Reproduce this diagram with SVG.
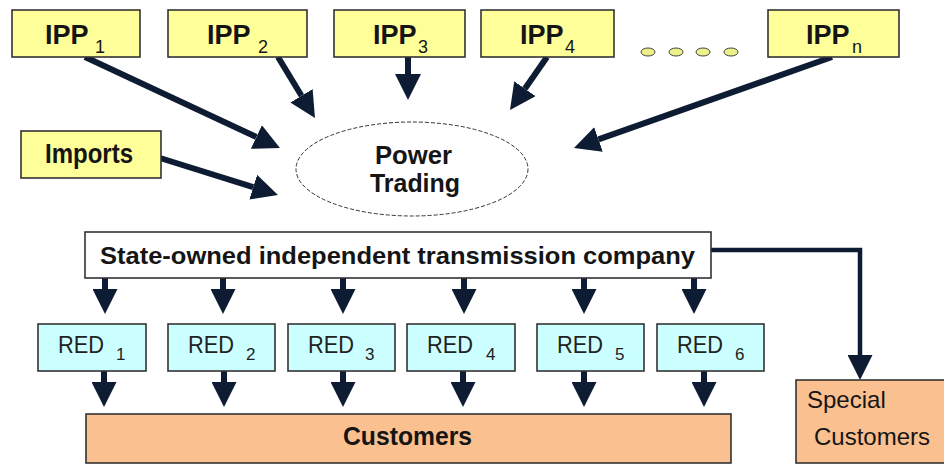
<svg xmlns="http://www.w3.org/2000/svg" width="944" height="464" viewBox="0 0 944 464">
<style>
text{font-family:"Liberation Sans",Arial,sans-serif;fill:#151515}
.ipp{fill:#FFFF99;stroke:#333;stroke-width:1.6}
.red{fill:#CCFFFF;stroke:#333;stroke-width:1.6}
.cus{fill:#FAC090;stroke:#333;stroke-width:1.6}
.wht{fill:#fff;stroke:#333;stroke-width:1.6}
.big{font-size:27px;font-weight:bold}
.sub{font-size:18px}
.rt{font-size:24px;fill:#222}
.rs{font-size:17px;fill:#222}
.arr{stroke:#0D1B33;stroke-width:6;fill:none;marker-end:url(#ah)}
.arr2{stroke:#0D1B33;stroke-width:6;fill:none;marker-end:url(#ah2)}
.dot{fill:#EEF08A;stroke:#444;stroke-width:1}
</style>
<defs>
<marker id="ah" markerUnits="userSpaceOnUse" markerWidth="26" markerHeight="26" viewBox="0 0 26 26" refX="0" refY="13" orient="auto">
<path d="M0,0 L26,13 L0,26 z" fill="#0D1B33"/>
</marker>
<marker id="ah2" markerUnits="userSpaceOnUse" markerWidth="25" markerHeight="25" viewBox="0 0 25 25" refX="0" refY="12.5" orient="auto">
<path d="M0,0 L25,12.5 L0,25 z" fill="#0D1B33"/>
</marker>
</defs>
<rect width="944" height="464" fill="#fff"/>

<g id="connectors">
<line class="arr" x1="85" y1="57" x2="256.4" y2="137"/>
<line class="arr" x1="278" y1="57" x2="301.5" y2="95.8"/>
<line class="arr" x1="408" y1="57" x2="408" y2="74"/>
<line class="arr" x1="547" y1="57" x2="524.9" y2="88.7"/>
<line class="arr" x1="832" y1="57" x2="598.5" y2="139.4"/>
<line class="arr" x1="160" y1="158" x2="253.2" y2="187.2"/>
<line class="arr2" x1="105" y1="278" x2="105" y2="289"/>
<line class="arr2" x1="223" y1="278" x2="223" y2="289"/>
<line class="arr2" x1="343" y1="278" x2="343" y2="289"/>
<line class="arr2" x1="464" y1="278" x2="464" y2="289"/>
<line class="arr2" x1="584" y1="278" x2="584" y2="289"/>
<line class="arr2" x1="694" y1="278" x2="694" y2="289"/>
<line class="arr2" x1="104" y1="371" x2="104" y2="382"/>
<line class="arr2" x1="224" y1="371" x2="224" y2="382"/>
<line class="arr2" x1="343" y1="371" x2="343" y2="382"/>
<line class="arr2" x1="463" y1="371" x2="463" y2="382"/>
<line class="arr2" x1="584" y1="371" x2="584" y2="382"/>
<line class="arr2" x1="704" y1="371" x2="704" y2="382"/>
<path d="M711,250 H860 V355" stroke="#0D1B33" stroke-width="4.5" fill="none" marker-end="url(#ah2)"/>
</g>

<g id="ipp1"><rect class="ipp" x="12" y="10" width="128" height="47"/><text class="big" x="45" y="44">IPP</text><text class="sub" x="95" y="53">1</text></g>
<g id="ipp2"><rect class="ipp" x="168" y="10" width="139" height="47"/><text class="big" x="207" y="44">IPP</text><text class="sub" x="258" y="53">2</text></g>
<g id="ipp3"><rect class="ipp" x="334" y="10" width="131" height="47"/><text class="big" x="373" y="44">IPP</text><text class="sub" x="418" y="53">3</text></g>
<g id="ipp4"><rect class="ipp" x="481" y="10" width="133" height="47"/><text class="big" x="520" y="44">IPP</text><text class="sub" x="565" y="53">4</text></g>
<g id="dots">
<ellipse class="dot" cx="648" cy="52" rx="7" ry="4"/>
<ellipse class="dot" cx="676" cy="52" rx="7" ry="4"/>
<ellipse class="dot" cx="703" cy="52" rx="7" ry="4"/>
<ellipse class="dot" cx="731" cy="52" rx="7" ry="4"/>
</g>
<g id="ippn"><rect class="ipp" x="768" y="10" width="131" height="47"/><text class="big" x="806" y="44">IPP</text><text class="sub" x="852" y="53">n</text></g>

<g id="imports"><rect class="ipp" x="21" y="131" width="140" height="47"/><text x="45" y="163" font-size="28" font-weight="bold" textLength="88" lengthAdjust="spacingAndGlyphs">Imports</text></g>

<g id="power-trading">
<ellipse cx="412" cy="169" rx="116" ry="47" fill="#fff" stroke="#333" stroke-width="1" stroke-dasharray="4 2"/>
<text x="375" y="164" font-size="25" font-weight="bold" textLength="77" lengthAdjust="spacingAndGlyphs">Power</text>
<text x="370" y="192" font-size="25" font-weight="bold" textLength="90" lengthAdjust="spacingAndGlyphs">Trading</text>
</g>

<g id="transmission"><rect class="wht" x="85" y="232" width="626" height="46"/><text x="100" y="264" font-size="24" font-weight="bold" textLength="595" lengthAdjust="spacingAndGlyphs">State-owned independent transmission company</text></g>

<g id="red1"><rect class="red" x="38" y="324" width="108" height="47"/><text class="rt" x="58" y="353" textLength="46" lengthAdjust="spacingAndGlyphs">RED</text><text class="rs" x="116" y="360">1</text></g>
<g id="red2"><rect class="red" x="168" y="324" width="107" height="47"/><text class="rt" x="188" y="353" textLength="46" lengthAdjust="spacingAndGlyphs">RED</text><text class="rs" x="246" y="360">2</text></g>
<g id="red3"><rect class="red" x="288" y="324" width="107" height="47"/><text class="rt" x="308" y="353" textLength="46" lengthAdjust="spacingAndGlyphs">RED</text><text class="rs" x="365" y="360">3</text></g>
<g id="red4"><rect class="red" x="407" y="324" width="108" height="47"/><text class="rt" x="427" y="353" textLength="46" lengthAdjust="spacingAndGlyphs">RED</text><text class="rs" x="486" y="360">4</text></g>
<g id="red5"><rect class="red" x="537" y="324" width="107" height="47"/><text class="rt" x="557" y="353" textLength="46" lengthAdjust="spacingAndGlyphs">RED</text><text class="rs" x="615" y="360">5</text></g>
<g id="red6"><rect class="red" x="657" y="324" width="107" height="47"/><text class="rt" x="677" y="353" textLength="46" lengthAdjust="spacingAndGlyphs">RED</text><text class="rs" x="735" y="360">6</text></g>

<g id="customers"><rect class="cus" x="86" y="414" width="645" height="49"/><text x="343" y="445" font-size="25" font-weight="bold" textLength="129" lengthAdjust="spacingAndGlyphs">Customers</text></g>

<g id="special-customers"><rect class="cus" x="796" y="380" width="150" height="83"/><text x="807" y="408" font-size="24" fill="#333">Special</text><text x="814" y="445" font-size="24" fill="#333">Customers</text></g>
</svg>
